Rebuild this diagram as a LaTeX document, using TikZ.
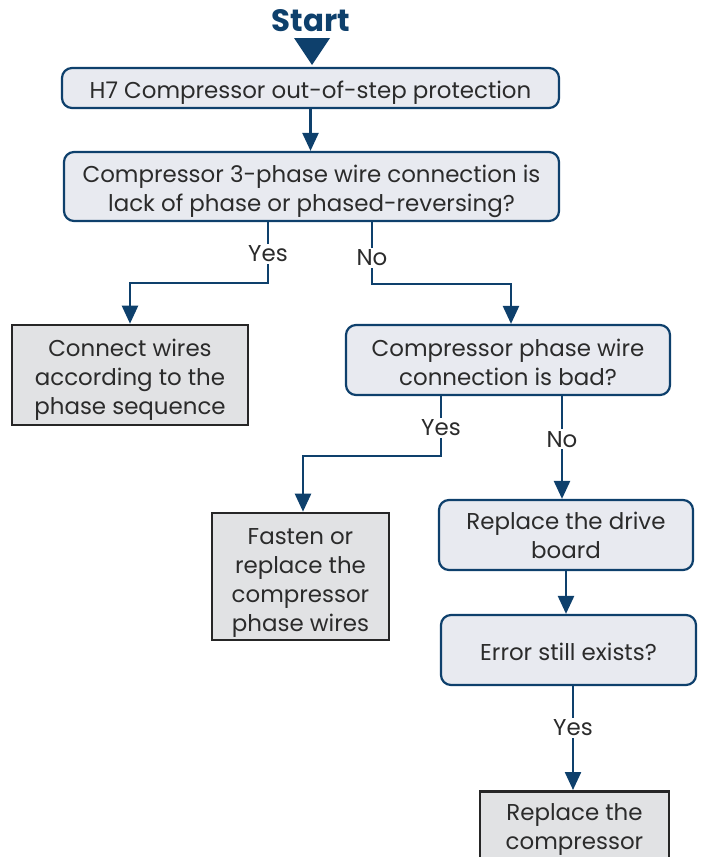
\documentclass[tikz,border=0pt]{standalone}
\usepackage{fontspec}
\setmainfont{Poppins}
\usetikzlibrary{arrows.meta,positioning,calc}
\definecolor{navy}{HTML}{0E406C}
\definecolor{boxfill}{HTML}{E8EAF0}
\definecolor{grayfill}{HTML}{E1E2E4}
\definecolor{txt}{HTML}{2B2B2B}
\definecolor{dark}{HTML}{262626}
\newcommand\dn[1]{\rule{0pt}{\dimexpr 17bp+#1bp*2\relax}}
\begin{document}
\begin{tikzpicture}[x=1bp,y=-1bp,
  every node/.style={font=\fontsize{23}{29}\selectfont, text=txt, align=center},
  decision/.style={draw=navy, line width=2.2bp, fill=boxfill, rounded corners=10bp, inner sep=0pt},
  action/.style={draw=dark, line width=2.6bp, fill=grayfill, inner sep=0pt},
  flow/.style={draw=navy, line width=2.4bp, -{Triangle[width=16bp,length=18bp]}},
  lbl/.style={fill=white, inner sep=2bp}]
\useasboundingbox (0,0) rectangle (701,857);
\clip (0,0) rectangle (701,857);

\node[font=\fontsize{31}{34}\selectfont\bfseries, text=navy] (start) at (311,21) {Start};
\coordinate (tl) at (294,38);
\coordinate (tr) at (330,38);
\coordinate (tip) at (312,65);
\fill[navy] (tl) -- (tr) -- (tip) -- cycle;

\node[decision, minimum width=497bp, minimum height=40bp] (b1) at (310.5,88) {\dn{5}H7 Compressor out-of-step protection};
\node[decision, minimum width=495bp, minimum height=69bp] (b2) at (311.5,186.5) {\dn{5}Compressor 3-phase wire connection is\\lack of phase or phased-reversing?};
\node[action, minimum width=236bp, minimum height=100bp] (bA) at (130,375) {\dn{5}Connect wires\\according to the\\phase sequence};
\node[decision, minimum width=324bp, minimum height=70bp] (b3) at (508,360) {\dn{3}Compressor phase wire\\connection is bad?};
\node[action, minimum width=177bp, minimum height=127bp] (bB) at (300.5,576.5) {\dn{6}Fasten or\\replace the\\compressor\\phase wires};
\node[decision, minimum width=254bp, minimum height=70bp] (b4) at (566,535) {\dn{1}Replace the drive\\board};
\node[decision, minimum width=255bp, minimum height=70bp] (b5) at (568.5,650) {\dn{2}Error still exists?};
\node[action, minimum width=189bp, minimum height=100bp, anchor=north] (bC) at (574.5,790) {Replace the\\compressor\\\mbox{}};

\draw[flow] (b1.south) -- (b1.south |- b2.north);

\draw[flow] ([xshift=-43.5bp]b2.south) -- ++(0,61) coordinate (y1) -| (bA.north);
\node[lbl] (yes1) at ($([xshift=-43.5bp]b2.south)!0.52!(y1)$) {Yes};

\draw[flow] ([xshift=60.5bp]b2.south) -- ++(0,62) coordinate (n1) -| ([xshift=3bp]b3.north);
\node[lbl] (no1) at ($([xshift=60.5bp]b2.south)!0.58!(n1)$) {No};

\draw[flow] ([xshift=-67bp]b3.south) -- ++(0,60) coordinate (y2) -| ([xshift=2.5bp]bB.north);
\node[lbl] (yes2) at ($([xshift=-67bp]b3.south)!0.53!(y2)$) {Yes};

\draw[flow] ([xshift=54bp]b3.south) coordinate (n2) -- (n2 |- b4.north);
\node[lbl] (no2) at ($(n2)!0.42!(n2 |- b4.north)$) {No};

\draw[flow] (b4.south) -- (b4.south |- b5.north);

\draw[flow] ([xshift=4.5bp]b5.south) coordinate (y3) -- (y3 |- bC.north);
\node[lbl] (yes3) at ($(y3)!0.4!(y3 |- bC.north)$) {Yes};
\end{tikzpicture}
\end{document}
